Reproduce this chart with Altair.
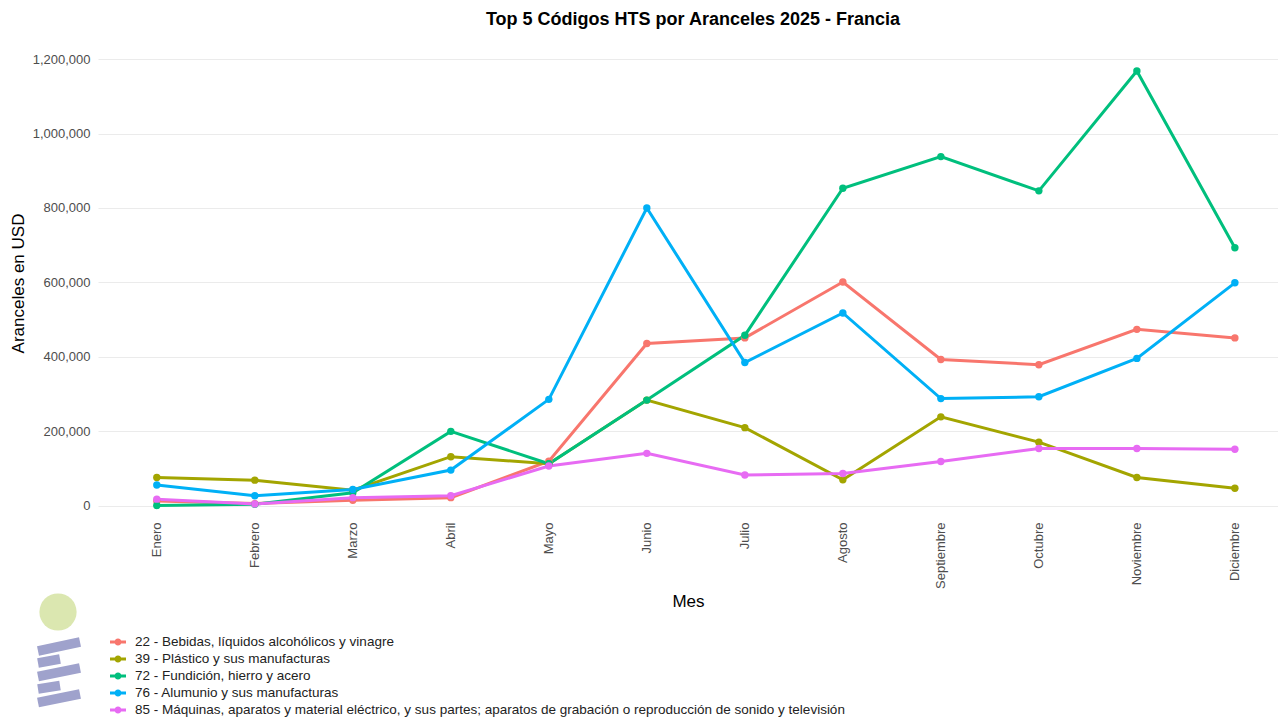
import altair as alt
import pandas as pd

months = ["Enero", "Febrero", "Marzo", "Abril", "Mayo", "Junio", "Julio",
          "Agosto", "Septiembre", "Octubre", "Noviembre", "Diciembre"]

series_names = [
    "22 - Bebidas, líquidos alcohólicos y vinagre",
    "39 - Plástico y sus manufacturas",
    "72 - Fundición, hierro y acero",
    "76 - Alumunio y sus manufacturas",
    "85 - Máquinas, aparatos y material eléctrico, y sus partes; aparatos de grabación o reproducción de sonido y televisión",
]

s22 = [13000, 6000, 15000, 22000, 120000, 436000, 451000, 601000, 393000, 379000, 474000, 451000]
s39 = [76000, 69000, 42000, 132000, 113000, 284000, 210000, 70000, 239000, 171000, 76000, 47000]
s72 = [1000, 4000, 35000, 200000, 113000, 284000, 458000, 853000, 938000, 846000, 1168000, 693000]
s76 = [56000, 27000, 44000, 96000, 286000, 800000, 385000, 518000, 288000, 293000, 396000, 599000]
s85 = [18000, 5000, 22000, 27000, 107000, 141000, 83000, 87000, 119000, 154000, 154000, 152000]

colors = ["#F8766D", "#A3A500", "#00BF7D", "#00B0F6", "#E76BF3"]

rows = []
for name, vals in zip(series_names, [s22, s39, s72, s76, s85]):
    for i, (m, v) in enumerate(zip(months, vals)):
        rows.append({"Mes": m, "idx": i, "Aranceles": v, "HTS": name})
df = pd.DataFrame(rows)

FONT = "Liberation Sans"
month_js = "[" + ",".join("'" + m + "'" for m in months) + "]"

x_enc = alt.X("idx:Q", title="Mes",
              scale=alt.Scale(domain=[-0.6, 11.44], nice=False, zero=False),
              axis=alt.Axis(values=list(range(len(months))),
                            labelExpr=month_js + "[datum.value]",
                            labelAngle=270, labelAlign="right", labelBaseline="middle",
                            labelPadding=5, titlePadding=5, grid=False, ticks=False,
                            domain=False, labelFontSize=13, titleFontSize=17,
                            labelColor="#4d4d4d", titleColor="#000000", titleFontWeight="normal"))
y_enc = alt.Y("Aranceles:Q", title="Aranceles en USD",
              scale=alt.Scale(domain=[-30000, 1227000], nice=False, zero=False),
              axis=alt.Axis(values=[0, 200000, 400000, 600000, 800000, 1000000, 1200000],
                            format=",.0f", grid=True, gridColor="#ebebeb", gridWidth=1,
                            ticks=False, domain=False, labelPadding=8, titlePadding=5,
                            labelFontSize=13, titleFontSize=17, labelColor="#4d4d4d",
                            titleColor="#000000", titleFontWeight="normal"))

legend_path = ("M-1,-0.19L1,-0.19L1,0.19L-1,0.19Z "
               "M0.44,0A0.44,0.44,0,1,1,-0.44,0A0.44,0.44,0,1,1,0.44,0Z")

color_enc = alt.Color("HTS:N", sort=series_names,
                      scale=alt.Scale(domain=series_names, range=colors),
                      legend=alt.Legend(title=None, orient="none", legendX=12, legendY=585,
                                        direction="vertical", symbolType=legend_path,
                                        symbolSize=256, symbolStrokeWidth=0,
                                        labelFontSize=13.5, labelLimit=2000,
                                        labelColor="#222222", rowPadding=2,
                                        labelOffset=9))

base = alt.Chart(df)
lines = base.mark_line(strokeWidth=3).encode(x=x_enc, y=y_enc, color=color_enc)
points = base.mark_circle(size=55, opacity=1).encode(x=x_enc, y=y_enc, color=color_enc)

# decorative logo
logo_df = pd.DataFrame({"k": [0]})
logo_base = alt.Chart(logo_df)
circle = logo_base.mark_circle(color="#dbe7b0", opacity=1, size=1385).encode(
    x=alt.value(-40), y=alt.value(563))
bar_color = "#9fa2cc"
bars = []
for (x1, y1, x2, y2) in [(-60, 602, -18, 593), (-60, 614, -38, 610), (-60, 627.5, -18, 619),
                         (-60, 640, -38, 636.5), (-60, 653.5, -18, 645)]:
    bars.append(logo_base.mark_rule(color=bar_color, strokeWidth=9.5, strokeCap="butt").encode(
        x=alt.value(x1), x2=alt.value(x2), y=alt.value(y1), y2=alt.value(y2)))

chart = alt.layer(lines, points, circle, *bars).properties(
    width=1180, height=468,
    title=alt.Title("Top 5 Códigos HTS por Aranceles 2025 - Francia", fontSize=18,
                    fontWeight="bold", font=FONT, anchor="middle", offset=20, dx=5,
                    color="#000000"),
    autosize=alt.AutoSizeParams(type="none"),
    padding={"left": 90, "top": 41, "right": 0, "bottom": 200},
).configure(font=FONT).configure_view(stroke=None).configure_axis(
    labelFont=FONT, titleFont=FONT).configure_legend(labelFont=FONT)

chart.save("out.html", embed_options={"renderer": "svg", "actions": False})
